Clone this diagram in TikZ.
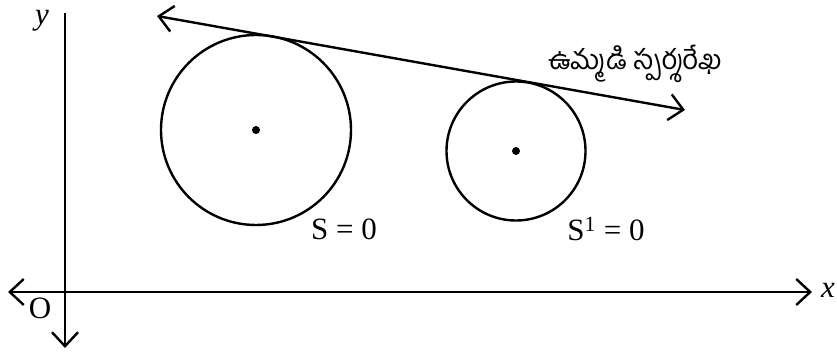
\documentclass[tikz,border=0pt]{standalone}
\usepackage{fontspec}
\setmainfont{Liberation Serif}
\newfontfamily\telugufont[Script=Telugu]{Hind Guntur}
\usetikzlibrary{arrows.meta}
\begin{document}
\begin{tikzpicture}[x=1pt,y=-1pt,
  tip/.tip={Straight Barb[length=14pt,width=26pt,line width=2.4pt]},
  axis/.style={line width=2.4pt,-tip},
  curve/.style={line width=2.4pt},
  lbl/.style={font=\fontsize{31}{34}\selectfont, inner sep=0pt},
  ital/.style={lbl,font=\fontsize{31}{34}\selectfont\itshape},
  dotc/.style={circle,fill=black,inner sep=0pt,minimum size=8pt}]
\useasboundingbox (0,0) rectangle (837,352);
\coordinate (xl) at (8,292);
\coordinate (xr) at (812,292);
\coordinate (yt) at (65,13);
\coordinate (yb) at (65,348);
\draw[axis] (65,292) -- (xr);
\draw[axis] (65,292) -- (xl);
\draw[curve] (yt) -- (65,292);
\draw[axis] (65,292) -- (yb);
\node[ital] (xlab) at (828,290) {x};
\node[ital] (ylab) at (42,21) {y};
\node[lbl] (O) at (40,308) {O};
\node[dotc] (c1) at (256,130) {};
\node[dotc] (c2) at (516,151) {};
\draw[curve] (c1.center) circle[radius=95];
\draw[curve] (c2.center) circle[radius=69.5];
\coordinate (t1) at (157,16);
\coordinate (t2) at (685,110);
\draw[curve,tip-tip] (t1) -- (t2);
\node[lbl] (s1) at (344,229) {S = 0};
\node[lbl] (s2) at (606,229) {S\textsuperscript{1} = 0};
\node[lbl,font=\telugufont\fontsize{27.5}{30}\selectfont] (tg) at (635,64) {ఉమ్మడి స్పర్శరేఖ};
\end{tikzpicture}
\end{document}
